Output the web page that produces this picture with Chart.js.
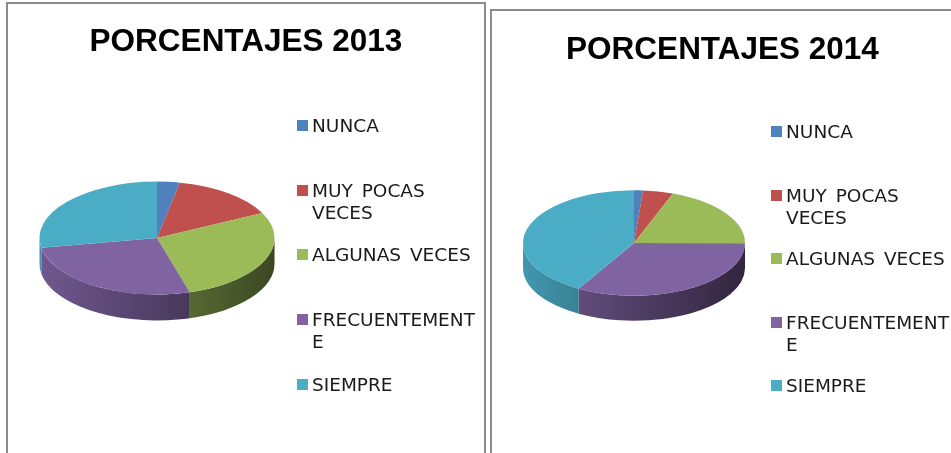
<!DOCTYPE html>
<html>
<head>
<meta charset="utf-8">
<script src="https://cdn.jsdelivr.net/npm/chart.js@4/dist/chart.umd.js"></script>
<style>
  html, body { margin: 0; padding: 0; background: #fff; overflow: hidden; width: 951px; height: 453px; }
  .frame { position: absolute; box-sizing: border-box; border: 2px solid #8c8c8c; border-bottom: 0; background: #fff; }
  #frame2013 { left: 6px; top: 2px; width: 480px; height: 451px; }
  #frame2014 { left: 490px; top: 9px; width: 470px; height: 444px; }
  canvas { position: absolute; left: 0; top: 0; }
  .legend { position: absolute; font: 18.5px/22px "DejaVu Sans", sans-serif; word-spacing: 3px; color: #1a1a1a; }
  .legend div { position: absolute; left: 0; white-space: pre; padding-left: 15px; }
  .legend i { position: absolute; left: 0; top: 5px; width: 11px; height: 11px; }
</style>
</head>
<body>
<div class="frame" id="frame2013"><canvas id="chart2013"></canvas><div class="legend" id="legend2013"></div></div>
<div class="frame" id="frame2014"><canvas id="chart2014"></canvas><div class="legend" id="legend2014"></div></div>
<script>
const categories = ["NUNCA", "MUY POCAS VECES", "ALGUNAS VECES", "FRECUENTEMENTE", "SIEMPRE"];
const legendLines = ["NUNCA", "MUY POCAS\nVECES", "ALGUNAS VECES", "FRECUENTEMENT\nE", "SIEMPRE"];
const values2013 = [3.1, 14.6, 27.8, 26.7, 27.8];
const values2014 = [1.3, 4.4, 19.4, 33.2, 41.7];
const sliceColors = ["#4f81bd", "#c0504d", "#9bbb59", "#8064a2", "#4bacc6"];

function shade(hex, f) {
  const n = parseInt(hex.slice(1), 16);
  return `rgb(${(n >> 16) * f},${((n >> 8) & 255) * f},${(n & 255) * f})`;
}

// squashes the pie into an ellipse and draws the side wall under it
const tiltPlugin = {
  id: "tilt",
  beforeDatasetsDraw(chart, args, opts) {
    const ctx = chart.ctx;
    const arcs = chart.getDatasetMeta(0).data;
    const rx = arcs[0].outerRadius;
    const ry = rx * opts.squash;
    ctx.save();
    arcs.forEach((arc, i) => {
      const a0 = Math.max(arc.startAngle, 0);
      const a1 = Math.min(arc.endAngle, Math.PI);
      if (a1 <= a0) return;
      const grad = ctx.createLinearGradient(opts.cx - rx, 0, opts.cx + rx, 0);
      const color = sliceColors[i];
      grad.addColorStop(0, shade(color, 0.88));
      grad.addColorStop(1, shade(color, 0.38));
      ctx.beginPath();
      ctx.ellipse(opts.cx, opts.cy, rx, ry, 0, a0, a1);
      ctx.ellipse(opts.cx, opts.cy + opts.depth, rx, ry, 0, a1, a0, true);
      ctx.closePath();
      ctx.fillStyle = grad;
      ctx.fill();
    });
    ctx.translate(opts.cx, opts.cy);
    ctx.scale(1, opts.squash);
    ctx.translate(-arcs[0].x, -arcs[0].y);
  },
  afterDatasetsDraw(chart) {
    chart.ctx.restore();
  },
};

function drawPie(id, values, title, size, tilt, titlePad) {
  const canvas = document.getElementById("chart" + id);
  canvas.width = size[0];
  canvas.height = size[1];
  new Chart(canvas, {
    type: "pie",
    data: {
      labels: categories,
      datasets: [{ data: values, backgroundColor: sliceColors, borderWidth: 0, radius: tilt.radius }],
    },
    options: {
      responsive: false,
      animation: false,
      plugins: {
        legend: { display: false },
        tooltip: { enabled: false },
        title: {
          display: true,
          text: title,
          color: "#000",
          padding: { top: titlePad, bottom: 0 },
          font: { family: "'Liberation Sans'", size: 31.5, weight: "bold" },
        },
        tilt: tilt,
      },
    },
    plugins: [tiltPlugin],
  });
}

function drawLegend(id, left, rows) {
  const box = document.getElementById("legend" + id);
  box.style.left = left + "px";
  legendLines.forEach((text, i) => {
    const row = document.createElement("div");
    row.style.top = rows[i] + "px";
    row.textContent = text;
    const mark = document.createElement("i");
    mark.style.background = sliceColors[i];
    row.prepend(mark);
    box.appendChild(row);
  });
}

drawPie("2013", values2013, "PORCENTAJES 2013", [476, 451], { radius: 117.5, squash: 0.48, cx: 149, cy: 234, depth: 26 }, 19);
drawPie("2014", values2014, "PORCENTAJES 2014", [461, 444], { radius: 111, squash: 0.475, cx: 142, cy: 232, depth: 25 }, 20);
drawLegend("2013", 289, [111, 176, 240, 305, 370]);
drawLegend("2014", 279, [110, 174, 237, 301, 364]);
</script>
</body>
</html>
